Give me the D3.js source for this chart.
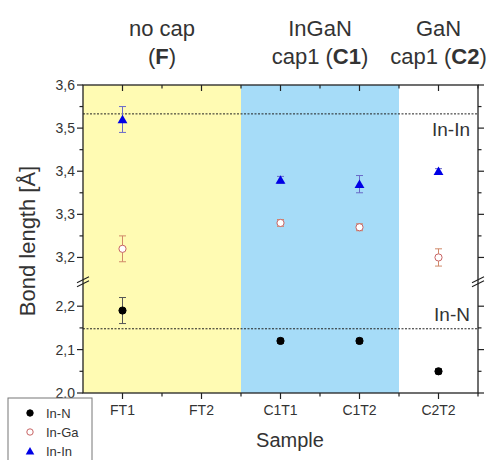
<!DOCTYPE html>
<html>
<head>
<meta charset="utf-8">
<script src="https://cdn.jsdelivr.net/npm/d3@7"></script>
<style>
  html, body { margin: 0; padding: 0; background: #fff; }
  svg { display: block; font-family: "Liberation Sans", Arial, sans-serif; }
</style>
</head>
<body>
<svg id="chart" width="501" height="460"></svg>
<script>
// Samples along the x axis
const samples = ["FT1", "FT2", "C1T1", "C1T2", "C2T2"];

// Bond lengths (Å) and their uncertainties; null = not measured
const inN   = [2.19, null, 2.12, 2.12, 2.05];
const inNErr  = [0.03, null, 0.006, 0.006, 0.006];
const inGa  = [3.22, null, 3.28, 3.27, 3.20];
const inGaErr = [0.03, null, 0.008, 0.008, 0.02];
const inIn  = [3.52, null, 3.38, 3.37, 3.40];
const inInErr = [0.03, null, 0.008, 0.02, 0.006];

// Reference bulk bond lengths
const refLines = [
  { name: "In-In", value: 3.533 },
  { name: "In-N",  value: 2.148 }
];

// Broken y axis: two segments
const upperTicks = [3.2, 3.3, 3.4, 3.5, 3.6];
const upperMinor = [3.25, 3.35, 3.45, 3.55];
const lowerTicks = [2.0, 2.1, 2.2];
const lowerMinor = [2.05, 2.15];

// Capping groups (shaded regions) with header lines
const groups = [
  { from: "FT1",  to: "FT2",  fill: "#fffbb3", title: ["no cap", ["(", "F", ")"]] },
  { from: "C1T1", to: "C1T2", fill: "#a6dcf8", title: ["InGaN", ["cap1 (", "C1", ")"]] },
  { from: "C2T2", to: "C2T2", fill: "#ffffff", title: ["GaN", ["cap1 (", "C2", ")"]] }
];

const svg = d3.select("#chart");
const L = 83, R = 478, T = 85, B = 393;
const textCol = "#333";

const x = d3.scaleBand().domain(samples).range([L, R]).padding(0);
const cx = s => x(s) + x.bandwidth() / 2;
const yUp = d3.scaleLinear().domain([3.15, 3.6]).range([279, T]);
const yLo = d3.scaleLinear().domain([2.0, 2.25]).range([B, 284.5]);
const y = v => v >= 3 ? yUp(v) : yLo(v);

// Shaded background regions
groups.forEach(g => {
  const x0 = x(g.from), x1 = g.to === samples[samples.length - 1] ? R : x(g.to) + x.bandwidth();
  svg.append("rect").attr("x", x0).attr("y", T).attr("width", x1 - x0).attr("height", B - T)
    .attr("fill", g.fill);
  const mid = (x0 + x1) / 2;
  svg.append("text").attr("x", mid).attr("y", 36).attr("text-anchor", "middle")
    .attr("font-size", 22).attr("fill", textCol).text(g.title[0]);
  const t2 = svg.append("text").attr("x", mid).attr("y", 64).attr("text-anchor", "middle")
    .attr("font-size", 22).attr("fill", textCol);
  g.title[1].forEach((part, i) => {
    t2.append("tspan").attr("font-weight", i === 1 ? "bold" : "normal").text(part);
  });
});

// Reference dashed lines and labels
refLines.forEach(r => {
  svg.append("line").attr("x1", L).attr("x2", R).attr("y1", y(r.value)).attr("y2", y(r.value))
    .attr("stroke", "#222").attr("stroke-width", 1).attr("stroke-dasharray", "2,1.5");
});
svg.append("text").attr("x", 470).attr("y", y(3.533) + 22).attr("text-anchor", "end")
  .attr("font-size", 19).attr("fill", textCol).text("In-In");
svg.append("text").attr("x", 470).attr("y", y(2.148) - 8).attr("text-anchor", "end")
  .attr("font-size", 19).attr("fill", textCol).text("In-N");

// Frame
svg.append("rect").attr("x", L).attr("y", T).attr("width", R - L).attr("height", B - T)
  .attr("fill", "none").attr("stroke", "#222").attr("stroke-width", 1.3);

// X axis (bottom, outward ticks) and top (inward ticks)
const xMinor = samples.slice(0, -1).map((s, i) => (cx(s) + cx(samples[i + 1])) / 2).concat([R]);
const axG = svg.append("g").attr("stroke", "#222").attr("stroke-width", 1.2);
samples.forEach(s => {
  axG.append("line").attr("x1", cx(s)).attr("x2", cx(s)).attr("y1", B).attr("y2", B + 6);
  axG.append("line").attr("x1", cx(s)).attr("x2", cx(s)).attr("y1", T).attr("y2", T + 6);
});
xMinor.forEach(v => {
  axG.append("line").attr("x1", v).attr("x2", v).attr("y1", B).attr("y2", B + 3.5);
  axG.append("line").attr("x1", v).attr("x2", v).attr("y1", T).attr("y2", T + 3.5);
});
svg.selectAll(".xl").data(samples).join("text").attr("class", "xl")
  .attr("x", d => cx(d)).attr("y", 415).attr("text-anchor", "middle")
  .attr("font-size", 14).attr("fill", textCol).text(d => d);

// Y axes (left and right, outward ticks)
const fmt = v => d3.format(".1f")(v).replace(".", ",");
[upperTicks.map(v => [v, yUp(v)]), lowerTicks.map(v => [v, yLo(v)])].flat().forEach(([v, py]) => {
  axG.append("line").attr("x1", L - 6).attr("x2", L).attr("y1", py).attr("y2", py);
  axG.append("line").attr("x1", R).attr("x2", R + 6).attr("y1", py).attr("y2", py);
  svg.append("text").attr("x", L - 8).attr("y", py + 5).attr("text-anchor", "end")
    .attr("font-size", 14).attr("fill", textCol).text(fmt(v));
});
[upperMinor.map(v => yUp(v)), lowerMinor.map(v => yLo(v))].flat().forEach(py => {
  axG.append("line").attr("x1", L - 3.5).attr("x2", L).attr("y1", py).attr("y2", py);
  axG.append("line").attr("x1", R).attr("x2", R + 3.5).attr("y1", py).attr("y2", py);
});

// Axis break marks
const yBreak = (yUp(3.15) + yLo(2.25)) / 2;
[L, R].forEach(bx => {
  [-2, 2].forEach(off => {
    svg.append("line").attr("x1", bx - 6).attr("x2", bx + 6)
      .attr("y1", yBreak + off + 3).attr("y2", yBreak + off - 3)
      .attr("stroke", "#222").attr("stroke-width", 1.2);
  });
});

// Axis titles
svg.append("text").attr("transform", `translate(35,${(T + B) / 2 + 2}) rotate(-90)`)
  .attr("text-anchor", "middle").attr("font-size", 22).attr("fill", textCol)
  .text("Bond length [Å]");
svg.append("text").attr("x", 290).attr("y", 447).attr("text-anchor", "middle")
  .attr("font-size", 20).attr("fill", textCol).text("Sample");

// Data series
const series = [
  { name: "In-N",  vals: inN,  errs: inNErr,  shape: "circle", fill: "#000", stroke: "#000", err: "#555" },
  { name: "In-Ga", vals: inGa, errs: inGaErr, shape: "circle", fill: "#fff", stroke: "#c86464", err: "#d08a6a" },
  { name: "In-In", vals: inIn, errs: inInErr, shape: "triangle", fill: "#0000e6", stroke: "#0000e6", err: "#6a6ac8" }
];
const triangle = d3.symbol().type(d3.symbolTriangle).size(42);

series.forEach(s => {
  const pts = samples.map((name, i) => ({ name, v: s.vals[i], e: s.errs[i] })).filter(d => d.v != null);
  const g = svg.append("g");
  pts.forEach(d => {
    const px = cx(d.name), y0 = y(d.v - d.e), y1 = y(d.v + d.e);
    g.append("line").attr("x1", px).attr("x2", px).attr("y1", y0).attr("y2", y1)
      .attr("stroke", s.err).attr("stroke-width", 1);
    [y0, y1].forEach(yy => g.append("line").attr("x1", px - 3.5).attr("x2", px + 3.5)
      .attr("y1", yy).attr("y2", yy).attr("stroke", s.err).attr("stroke-width", 1));
    if (s.shape === "circle") {
      g.append("circle").attr("cx", px).attr("cy", y(d.v)).attr("r", 3.6)
        .attr("fill", s.fill).attr("stroke", s.stroke).attr("stroke-width", 1);
    } else {
      g.append("path").attr("d", triangle).attr("transform", `translate(${px},${y(d.v) + 1})`)
        .attr("fill", s.fill);
    }
  });
});

// Legend
const lg = svg.append("g").attr("transform", "translate(8,398)");
lg.append("rect").attr("width", 84).attr("height", 66).attr("fill", "#fff")
  .attr("stroke", "#777").attr("stroke-width", 1);
series.forEach((s, i) => {
  const ly = 15 + i * 19;
  if (s.shape === "circle") {
    lg.append("circle").attr("cx", 22).attr("cy", ly).attr("r", 3.2)
      .attr("fill", s.fill).attr("stroke", s.stroke).attr("stroke-width", 1);
  } else {
    lg.append("path").attr("d", d3.symbol().type(d3.symbolTriangle).size(32))
      .attr("transform", `translate(22,${ly + 1})`).attr("fill", s.fill);
  }
  lg.append("text").attr("x", 38).attr("y", ly + 5).attr("font-size", 13)
    .attr("fill", textCol).text(s.name);
});
</script>
</body>
</html>
